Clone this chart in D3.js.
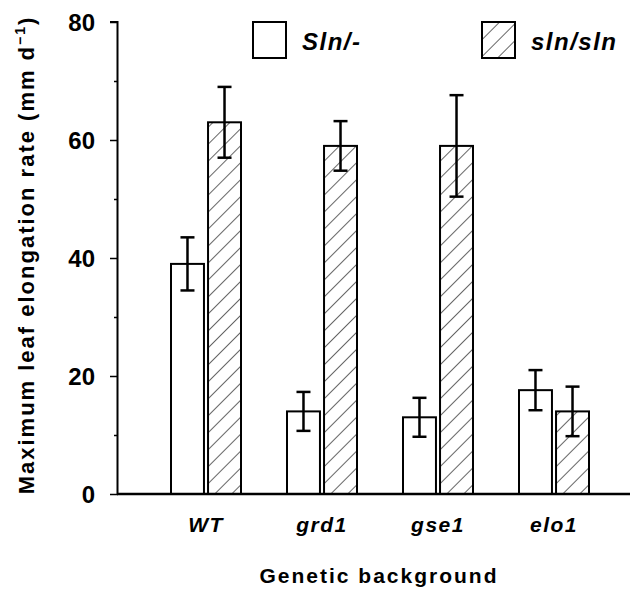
<!DOCTYPE html>
<html>
<head>
<meta charset="utf-8">
<script src="https://cdn.jsdelivr.net/npm/d3@7"></script>
<style>
  body { margin: 0; background: #fff; }
  svg { font-family: "Liberation Sans", Arial, sans-serif; }
  .tick text { font-size: 24px; font-weight: bold; }
</style>
</head>
<body>
<div id="chart"></div>
<script>
// data
const backgrounds = ["WT", "grd1", "gse1", "elo1"];
const genotypes = ["Sln/-", "sln/sln"];
const slnHet = [39, 14, 13, 17.6];
const slnHom = [63, 59, 59, 14];
const slnHetErr = [4.5, 3.3, 3.3, 3.4];
const slnHomErr = [6, 4.2, 8.6, 4.2];
const yTicks = [0, 20, 40, 60, 80];
const yMinor = [10, 30, 50, 70];

const width = 639;
const height = 593;
const margin = {top: 22, right: 9, bottom: 99, left: 118};

const svg = d3.select("#chart")
  .append("svg")
    .attr("width", width)
    .attr("height", height);

// hatch pattern for sln/sln
const defs = svg.append("defs");
defs.append("pattern")
    .attr("id", "hatch")
    .attr("patternUnits", "userSpaceOnUse")
    .attr("width", 12)
    .attr("height", 12)
    .attr("patternTransform", "rotate(45)")
  .append("line")
    .attr("x1", 0).attr("y1", 0)
    .attr("x2", 0).attr("y2", 12)
    .attr("stroke", "#000")
    .attr("stroke-width", 1.2);

const rows = backgrounds.map((b, i) => ({
  bg: b,
  vals: [
    {g: genotypes[0], v: slnHet[i], e: slnHetErr[i]},
    {g: genotypes[1], v: slnHom[i], e: slnHomErr[i]}
  ]
}));

const y = d3.scaleLinear()
  .domain([0, 80])
  .range([height - margin.bottom, margin.top]);

const x0 = d3.scaleBand()
  .domain(backgrounds)
  .range([148, 612])
  .padding(0);

const x1 = d3.scaleBand()
  .domain(genotypes)
  .range([23, 93])
  .paddingInner(0.11);

const fill = d3.scaleOrdinal()
  .domain(genotypes)
  .range(["#fff", "url(#hatch)"]);

// bars
const groups = svg.append("g")
  .selectAll("g")
  .data(rows)
  .join("g")
    .attr("transform", d => `translate(${x0(d.bg)},0)`);

groups.selectAll("rect")
  .data(d => d.vals)
  .join("rect")
    .attr("x", d => x1(d.g))
    .attr("y", d => y(d.v))
    .attr("width", x1.bandwidth())
    .attr("height", d => y(0) - y(d.v))
    .attr("fill", d => fill(d.g))
    .attr("stroke", "#000")
    .attr("stroke-width", 2);

// error bars
const err = groups.selectAll("g.err")
  .data(d => d.vals)
  .join("g")
    .attr("class", "err")
    .attr("transform", d => `translate(${x1(d.g) + x1.bandwidth() / 2},0)`)
    .attr("stroke", "#000")
    .attr("stroke-width", 2.5);

err.append("line")
    .attr("y1", d => y(d.v + d.e))
    .attr("y2", d => y(d.v - d.e));
err.append("line")
    .attr("x1", -7).attr("x2", 7)
    .attr("y1", d => y(d.v + d.e))
    .attr("y2", d => y(d.v + d.e));
err.append("line")
    .attr("x1", -7).attr("x2", 7)
    .attr("y1", d => y(d.v - d.e))
    .attr("y2", d => y(d.v - d.e));

// y axis
const yAxis = svg.append("g")
  .attr("transform", `translate(${margin.left},0)`)
  .call(d3.axisLeft(y).tickValues(yTicks).tickSize(8).tickPadding(15));
yAxis.select(".domain").attr("stroke-width", 2).attr("d", `M-0.5,${y(0)}V${y(80)}H-8`);
yAxis.selectAll(".tick line").attr("stroke-width", 1.5);
yAxis.selectAll(".tick text").attr("dy", "0.36em");

svg.append("g")
  .attr("transform", `translate(${margin.left},0)`)
  .call(d3.axisLeft(y).tickValues(yMinor).tickSize(4).tickFormat(""))
  .call(g => g.select(".domain").remove())
  .selectAll(".tick line").attr("stroke-width", 1.5);

// x axis line
svg.append("line")
  .attr("x1", margin.left - 1)
  .attr("x2", width - margin.right)
  .attr("y1", y(0))
  .attr("y2", y(0))
  .attr("stroke", "#000")
  .attr("stroke-width", 2.5);

// category labels
svg.append("g")
  .selectAll("text")
  .data(backgrounds)
  .join("text")
    .attr("x", d => x0(d) + x0.bandwidth() / 2)
    .attr("y", 532)
    .attr("text-anchor", "middle")
    .style("font-size", "21px")
    .style("font-style", "italic")
    .style("font-weight", "bold")
    .style("letter-spacing", "1.5px")
    .text(d => d);

// axis titles
svg.append("text")
  .attr("x", 379)
  .attr("y", 583)
  .attr("text-anchor", "middle")
  .style("font-size", "21px")
  .style("font-weight", "bold")
  .style("letter-spacing", "2px")
  .text("Genetic background");

const yTitle = svg.append("text")
  .attr("transform", `translate(34,255) rotate(-90)`)
  .attr("text-anchor", "middle")
  .style("font-size", "22px")
  .style("font-weight", "bold")
  .style("letter-spacing", "2px");
yTitle.append("tspan").text("Maximum leaf elongation rate (mm d");
yTitle.append("tspan").attr("dy", -9).style("font-size", "14px").text("−1");
yTitle.append("tspan").attr("dy", 9).text(")");

// legend
const legendX = [253, 482];
const legend = svg.append("g")
  .selectAll("g")
  .data(genotypes)
  .join("g")
    .attr("transform", (d, i) => `translate(${legendX[i]},22)`);
legend.append("rect")
  .attr("width", 33)
  .attr("height", 36)
  .attr("fill", d => fill(d))
  .attr("stroke", "#000")
  .attr("stroke-width", 2);
legend.append("text")
  .attr("x", 49)
  .attr("y", 28)
  .style("font-size", "24px")
  .style("font-weight", "bold")
  .style("font-style", "italic")
  .style("letter-spacing", "1.5px")
  .text(d => d);
</script>
</body>
</html>
